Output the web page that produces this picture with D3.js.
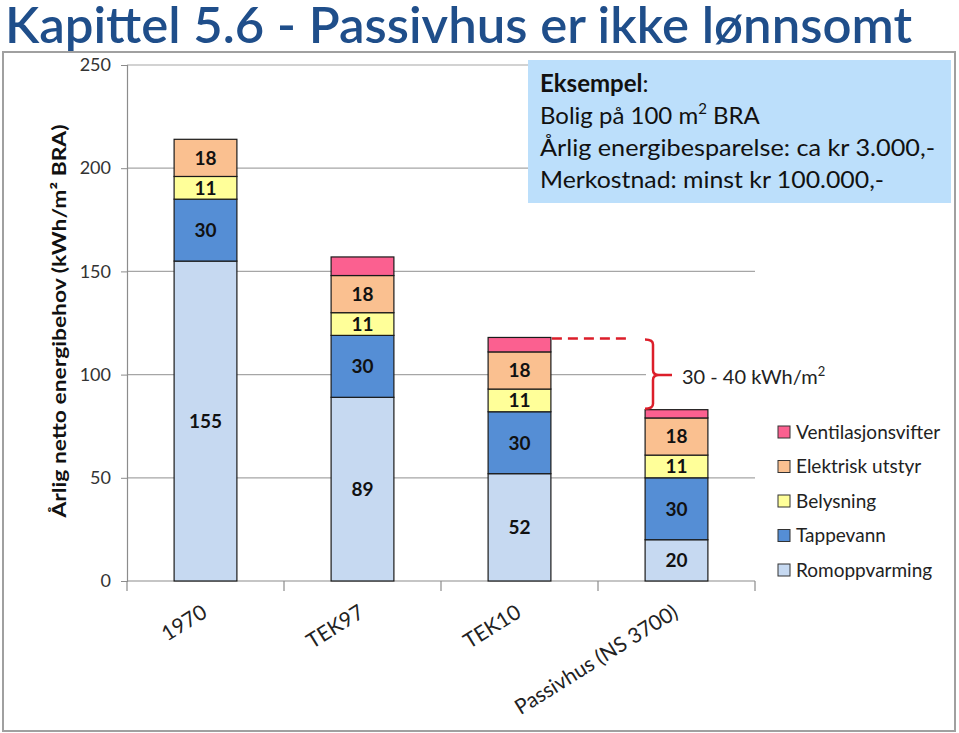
<!DOCTYPE html>
<html><head><meta charset="utf-8">
<script src="https://cdn.jsdelivr.net/npm/d3@7"></script>
<style>
html,body{margin:0;padding:0;background:#fff;}
svg text{font-family:Lato,"Open Sans",sans-serif;}
</style></head>
<body><svg id="c" width="959" height="733"></svg>
<script>
// ---- data ----
const categories = ["1970", "TEK97", "TEK10", "Passivhus (NS 3700)"];
const seriesNames = ["Romoppvarming", "Tappevann", "Belysning", "Elektrisk utstyr", "Ventilasjonsvifter"];
const romoppvarming = [155, 89, 52, 20];
const tappevann = [30, 30, 30, 30];
const belysning = [11, 11, 11, 11];
const elektriskUtstyr = [18, 18, 18, 18];
const ventilasjonsvifter = [0, 9, 7, 4];
const showLabel = [true, true, true, true, false];
const seriesColors = ["#c6d9f1", "#558ed5", "#ffff99", "#fac090", "#fb6090"];
const yTicks = [0, 50, 100, 150, 200, 250];
const title = "Kapittel 5.6 - Passivhus er ikke lønnsomt";
const yLabel = "Årlig netto energibehov (kWh/m² BRA)";
const annotation = "30 - 40 kWh/m²";
const boxLines = ["Eksempel:", "Bolig på 100 m² BRA", "Årlig energibesparelse: ca kr 3.000,-", "Merkostnad: minst kr 100.000,-"];

const values = [romoppvarming, tappevann, belysning, elektriskUtstyr, ventilasjonsvifter];
const table = categories.map((c, i) => {
  const o = {cat: c};
  seriesNames.forEach((s, j) => o[s] = values[j][i]);
  return o;
});

const svg = d3.select("#c");
function fit(sel, w) {
  const n = sel.node(); const l = n.getComputedTextLength();
  if (Math.abs(l - w) > 1) sel.attr("textLength", w).attr("lengthAdjust", "spacingAndGlyphs");
  return sel;
}

// frame
svg.append("rect").attr("x", 3).attr("y", 52).attr("width", 952).attr("height", 679)
  .attr("fill", "#fff").attr("stroke", "#a0a0a0").attr("stroke-width", 2);

// title
fit(svg.append("text").attr("x", 5).attr("y", 43).attr("font-size", 50).attr("font-weight", 600)
  .attr("fill", "#1f4e8a").text(title), 907);

const x = d3.scaleBand().domain(categories).range([127, 755]).paddingInner(0.6).paddingOuter(0.3);
const xb = d3.scaleBand().domain(categories).range([127, 755]);
const y = d3.scaleLinear().domain([0, 250]).range([581, 65]);

// gridlines
svg.append("g").selectAll("line").data(yTicks.filter(d => d > 0)).join("line")
  .attr("x1", 127).attr("x2", 755).attr("y1", d => y(d)).attr("y2", d => y(d))
  .attr("stroke", "#a6a6a6").attr("stroke-width", 1.2);

// y axis
const ya = svg.append("g").attr("transform", "translate(127,0)")
  .call(d3.axisLeft(y).tickValues(yTicks).tickSize(6).tickPadding(10));
ya.select(".domain").attr("stroke", "#8c8c8c").attr("stroke-width", 1.2);
ya.selectAll(".tick line").attr("stroke", "#8c8c8c");
ya.selectAll("text").attr("font-size", 18).attr("fill", "#333").attr("font-family", "Lato");

// x axis
svg.append("line").attr("x1", 127).attr("x2", 755).attr("y1", 581).attr("y2", 581)
  .attr("stroke", "#8c8c8c").attr("stroke-width", 1.2);
const bounds = categories.map(c => xb(c)).concat([xb(categories[3]) + xb.bandwidth()]);
svg.append("g").selectAll("line").data(bounds).join("line")
  .attr("x1", d => d).attr("x2", d => d).attr("y1", 581).attr("y2", 591)
  .attr("stroke", "#8c8c8c").attr("stroke-width", 1.2);
svg.append("g").selectAll("text").data(categories).join("text")
  .attr("transform", d => `translate(${xb(d) + xb.bandwidth() / 2 + 3},616) rotate(-32)`)
  .attr("text-anchor", "end").attr("font-size", 21).attr("fill", "#222").text(d => d);

// bars
const stack = d3.stack().keys(seriesNames)(table);
const layers = svg.append("g").selectAll("g").data(stack).join("g")
  .attr("fill", (d, i) => seriesColors[i]);
layers.selectAll("rect").data(d => d).join("rect")
  .attr("x", d => x(d.data.cat)).attr("width", x.bandwidth())
  .attr("y", d => y(d[1])).attr("height", d => y(d[0]) - y(d[1]))
  .attr("stroke", d => (d[1] - d[0]) > 0 ? "#1a1a1a" : "none").attr("stroke-width", 1.2);
layers.each(function (layer, li) {
  if (!showLabel[li]) return;
  d3.select(this).selectAll("text").data(layer).join("text")
    .attr("x", d => x(d.data.cat) + x.bandwidth() / 2)
    .attr("y", d => (y(d[0]) + y(d[1])) / 2).attr("dy", "0.36em")
    .attr("text-anchor", "middle").attr("font-size", 19).attr("font-weight", 700)
    .attr("fill", "#111").text(d => d[1] - d[0]);
});

// y label
fit(svg.append("text").attr("transform", "translate(66,321) rotate(-90)")
  .attr("text-anchor", "middle").attr("font-size", 19).attr("font-weight", 700)
  .attr("fill", "#111").text(yLabel), 393);

// annotation: dashed line + bracket
const totals = table.map(r => d3.sum(seriesNames, s => r[s]));
const tekTop = y(totals[2]);
const phTop = y(totals[3]);
const xr2 = x(categories[2]) + x.bandwidth();
svg.append("rect").attr("x", 646).attr("y", 356).attr("width", 106).attr("height", 38).attr("fill", "#fff");
svg.append("line").attr("x1", xr2 + 1).attr("x2", 628).attr("y1", tekTop + 1).attr("y2", tekTop + 1)
  .attr("stroke", "#dc1e2a").attr("stroke-width", 2.5).attr("stroke-dasharray", "10,6");
const bx = 653, bTop = tekTop + 2, bBot = phTop - 1, bMid = 375;
svg.append("path").attr("d",
  `M${bx - 8},${bTop} Q${bx},${bTop} ${bx},${bTop + 5} L${bx},${bMid - 5} Q${bx},${bMid} ${bx + 6},${bMid} L${bx + 19},${bMid} M${bx + 6},${bMid} Q${bx},${bMid} ${bx},${bMid + 5} L${bx},${bBot - 5} Q${bx},${bBot} ${bx - 8},${bBot}`)
  .attr("fill", "none").attr("stroke", "#dc1e2a").attr("stroke-width", 2.5);
const at = svg.append("text").attr("x", 682).attr("y", 384).attr("font-size", 20).attr("fill", "#222");
at.append("tspan").text(annotation.slice(0, -1));
at.append("tspan").attr("font-size", 13).attr("dy", -8).text("2");

// example box
svg.append("rect").attr("x", 528).attr("y", 60).attr("width", 423).attr("height", 143).attr("fill", "#bcdffb");
const t0 = svg.append("text").attr("x", 540).attr("y", 92).attr("font-size", 24).attr("fill", "#111");
t0.append("tspan").attr("font-weight", 700).text(boxLines[0].slice(0, -1));
t0.append("tspan").text(":");
const t1 = svg.append("text").attr("x", 540).attr("y", 124).attr("font-size", 24).attr("fill", "#111");
t1.append("tspan").text("Bolig på 100 m");
t1.append("tspan").attr("font-size", 15).attr("dy", -10).text("2");
t1.append("tspan").attr("dy", 10).text(" BRA");
fit(t1, 219);
fit(svg.append("text").attr("x", 540).attr("y", 156).attr("font-size", 24).attr("fill", "#111").text(boxLines[2]), 395);
fit(svg.append("text").attr("x", 540).attr("y", 188).attr("font-size", 24).attr("fill", "#111").text(boxLines[3]), 344);

// legend
const legOrder = seriesNames.map((s, i) => i).reverse();
const lg = svg.append("g").selectAll("g").data(legOrder).join("g")
  .attr("transform", (d, i) => `translate(778,${432 + i * 34.5})`);
lg.append("rect").attr("x", 0).attr("y", -6).attr("width", 12).attr("height", 12)
  .attr("fill", d => seriesColors[d]).attr("stroke", "#333").attr("stroke-width", 1);
lg.append("text").attr("x", 18).attr("dy", "0.36em").attr("font-size", 19).attr("fill", "#222")
  .text(d => seriesNames[d]);
</script></body></html>
